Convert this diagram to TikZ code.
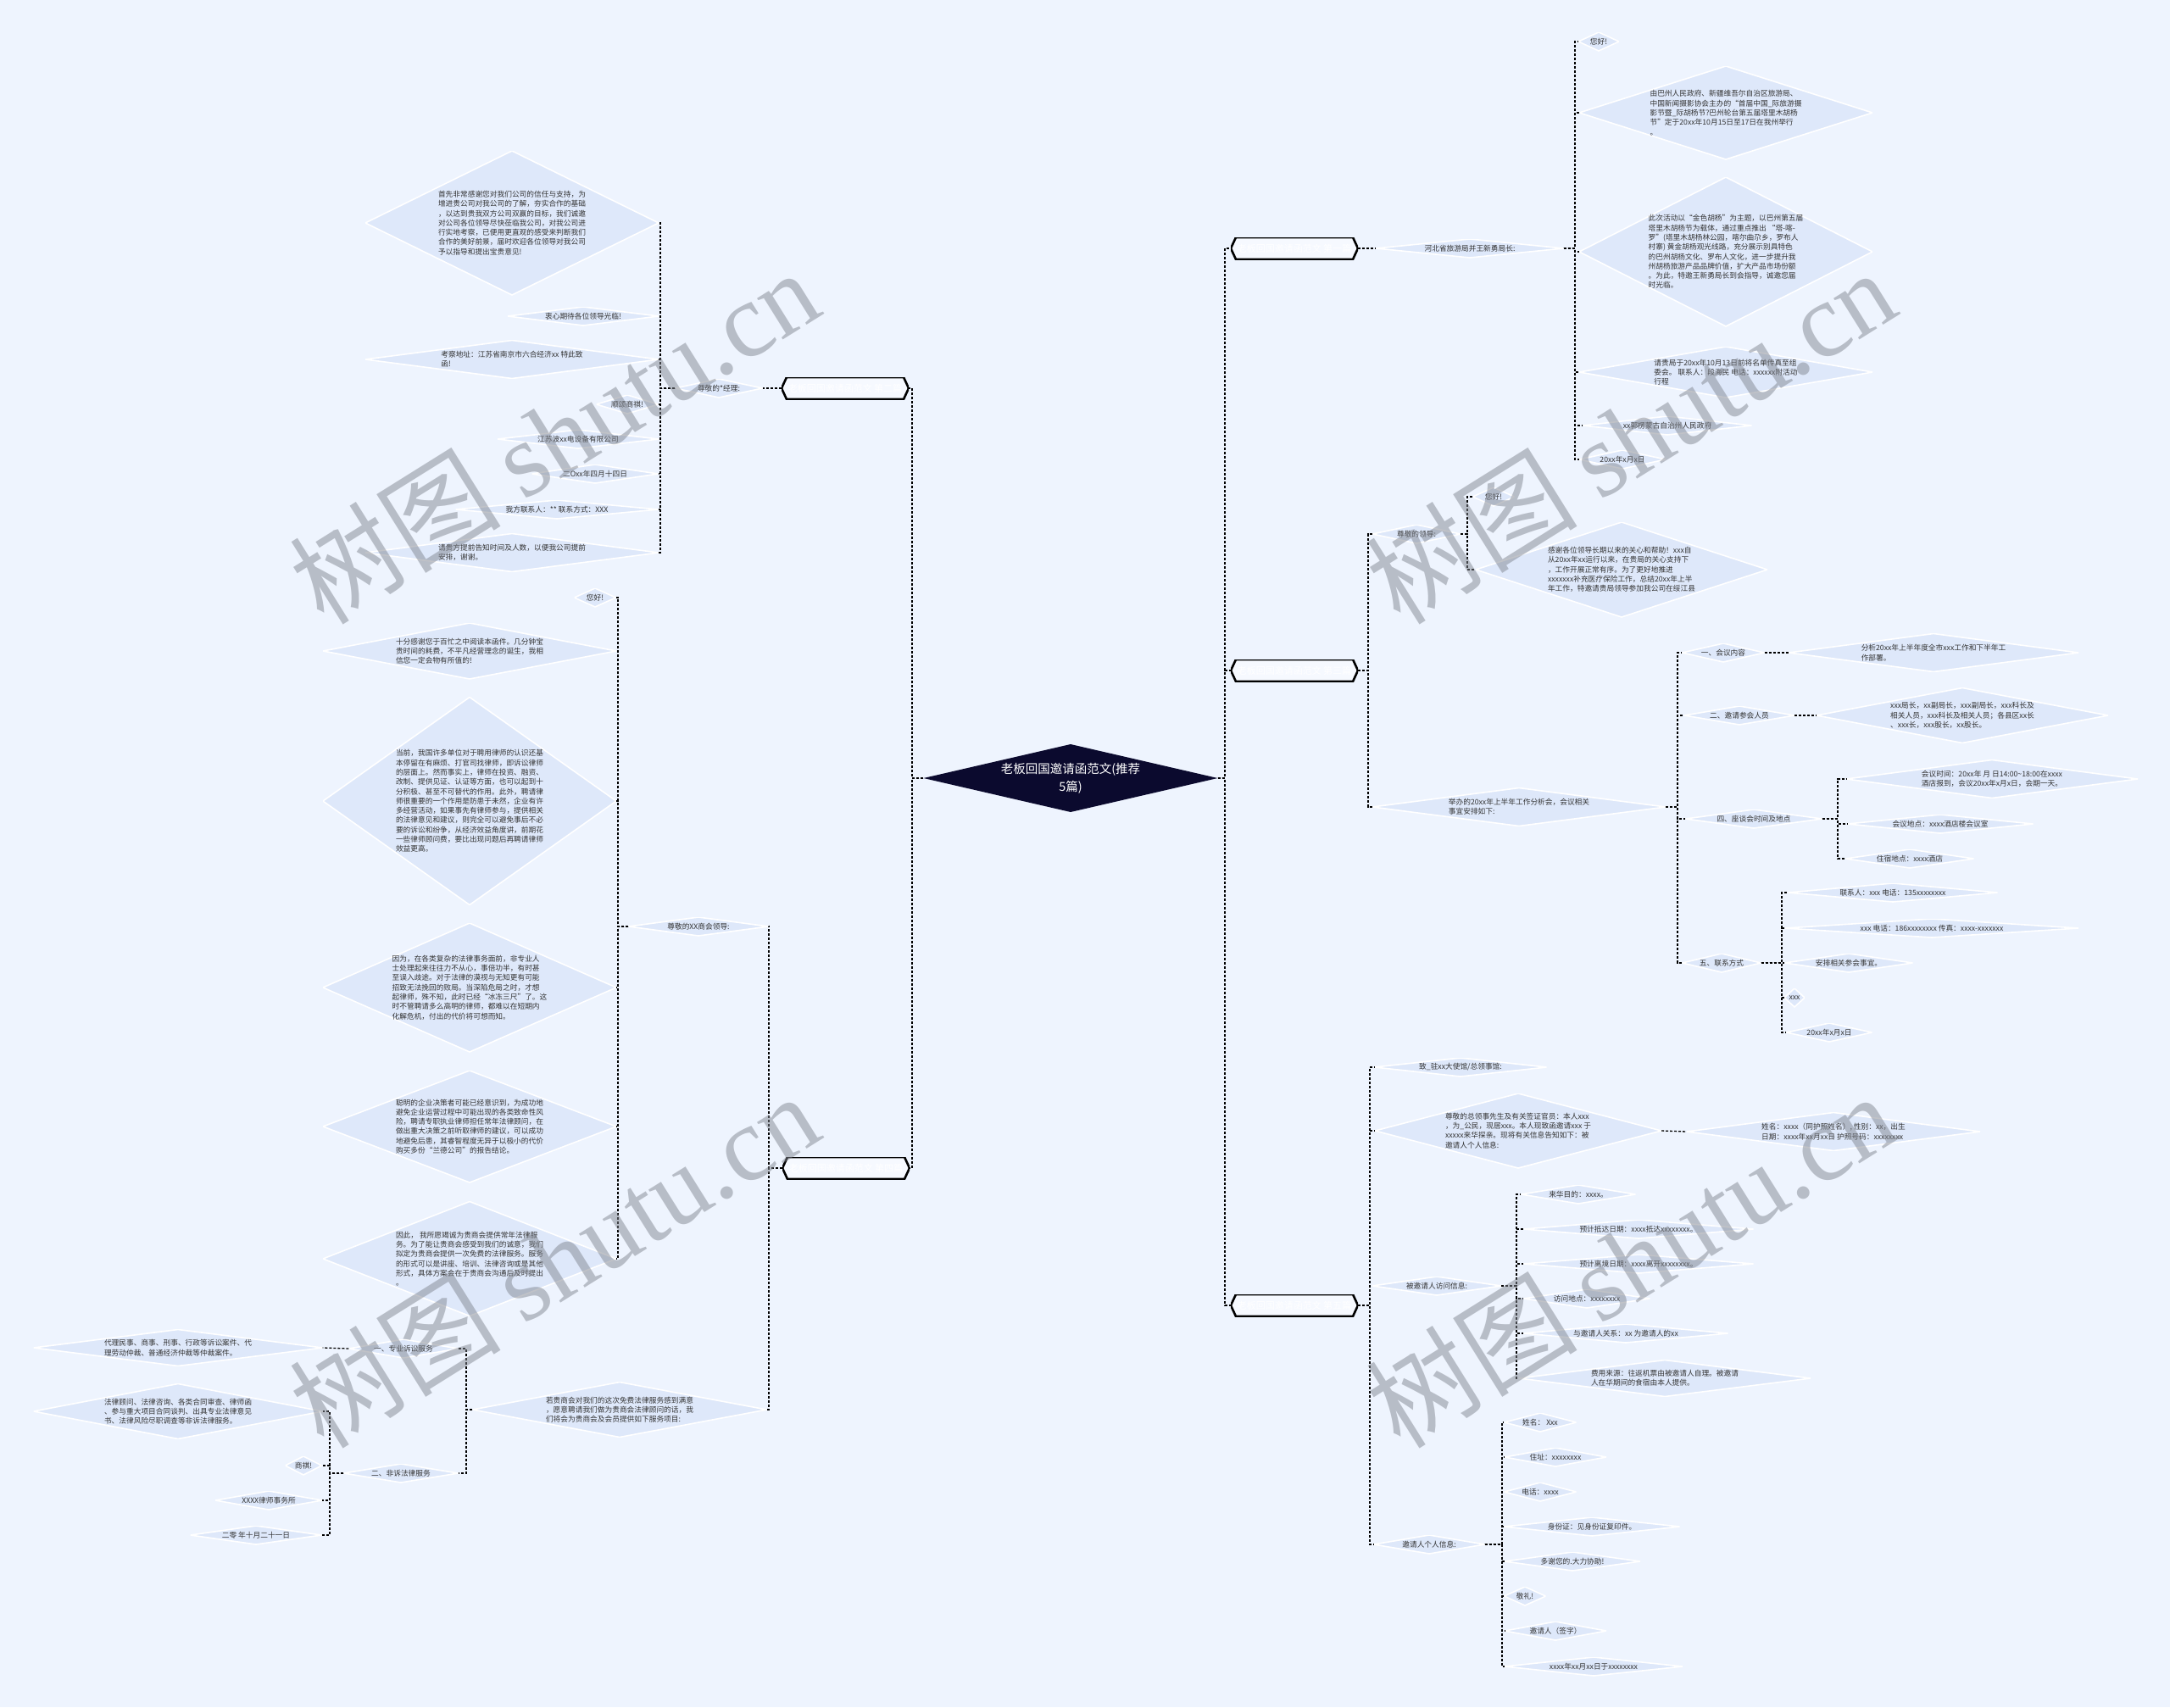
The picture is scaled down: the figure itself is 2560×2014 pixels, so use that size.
\documentclass[tikz,border=0pt]{standalone}
\usepackage{fontspec}
\setmainfont{Noto Sans CJK SC}
\newfontfamily\wmlat{Liberation Serif}
\usetikzlibrary{calc}
\definecolor{bgc}{RGB}{238,244,254}
\definecolor{dfill}{RGB}{222,232,250}
\definecolor{txtc}{RGB}{51,51,51}
\definecolor{rootc}{RGB}{11,10,46}
\definecolor{hexfill}{RGB}{246,249,255}
\definecolor{wmc}{RGB}{130,135,145}
\tikzset{
  conn/.style={draw=black, line width=1.3pt, dash pattern=on 3pt off 2pt},
  dm/.style 2 args={rectangle, inner sep=0pt, minimum width=#1pt, minimum height=#2pt,
    align=left, text=txtc, font=\fontsize{8.7}{11.3}\selectfont,
    path picture={\fill[dfill, draw=white, line width=1.6pt]
      (path picture bounding box.west) -- (path picture bounding box.north) --
      (path picture bounding box.east) -- (path picture bounding box.south) -- cycle;}},
  sd/.style={dm={#1}{22}},
  hexn/.style={rectangle, inner sep=0pt, minimum width=150pt, minimum height=26pt,
    text=white, font=\fontsize{11}{13}\selectfont,
    path picture={\fill[hexfill, draw=black, line width=2.6pt]
      (path picture bounding box.west) -- ([xshift=6pt]path picture bounding box.north west) --
      ([xshift=-6pt]path picture bounding box.north east) -- (path picture bounding box.east) --
      ([xshift=-6pt]path picture bounding box.south east) -- ([xshift=6pt]path picture bounding box.south west) -- cycle;}},
  rootn/.style={rectangle, inner sep=0pt, minimum width=347pt, minimum height=80pt,
    align=center, text=white, font=\fontsize{14.5}{21}\selectfont,
    path picture={\fill[rootc]
      (path picture bounding box.west) -- (path picture bounding box.north) --
      (path picture bounding box.east) -- (path picture bounding box.south) -- cycle;}},
  wm/.style={font=\fontsize{125}{125}\selectfont, text=wmc, text opacity=0.5, rotate=32, inner sep=0pt}
}
\begin{document}
\begin{tikzpicture}[x=1pt,y=-1pt]
\fill[bgc] (0,0) rectangle (2560,2014);
\useasboundingbox (0,0) rectangle (2560,2014);

% trunk coordinates
\coordinate (tkL) at (1076,0);
\coordinate (tkR) at (1445,0);
\coordinate (tkA) at (779,0);
\coordinate (tkL2) at (907,0);
\coordinate (tkB) at (729,0);
\coordinate (tkC) at (550,0);
\coordinate (tkD) at (389,0);
\coordinate (tkD0) at (1858,0);
\coordinate (tkE) at (1614,0);
\coordinate (tkE2) at (1731,0);
\coordinate (tkF) at (1979,0);
\coordinate (tkF3) at (2168,0);
\coordinate (tkF4) at (2102,0);
\coordinate (tkG) at (1616,0);
\coordinate (tkG2) at (1789,0);
\coordinate (tkG3) at (1772,0);

% root
\node[rootn] (root) at (1263,918) {老板回国邀请函范文(推荐\\5篇)};

% level 1
\node[hexn] (h1) at (1527,293) {老板回国邀请函范文 第一篇};
\node[hexn] (h2) at (997,458) {老板回国邀请函范文 第二篇};
\node[hexn] (h3) at (1527,791) {老板回国邀请函范文 第三篇};
\node[hexn] (h4) at (998,1378) {老板回国邀请函范文 第四篇};
\node[hexn] (h5) at (1527,1540) {老板回国邀请函范文 第五篇};

% ---- 第二篇
\node[sd=103] (a0) at (848,458) {尊敬的*经理:};
\node[dm={346}{170}] (a1) at (604,263) {首先非常感谢您对我们公司的信任与支持，为\\增进贵公司对我公司的了解，夯实合作的基础\\，以达到贵我双方公司双赢的目标，我们诚邀\\对公司各位领导尽快莅临我公司，对我公司进\\行实地考察，已便用更直观的感受来判断我们\\合作的美好前景，届时欢迎各位领导对我公司\\予以指导和提出宝贵意见!};
\node[sd=178] (a2) at (688,373) {衷心期待各位领导光临!};
\node[dm={346}{45}] (a3) at (604,424) {考察地址：江苏省南京市六合经济xx 特此致\\函!};
\node[sd=73] (a4) at (740,477) {顺颂商祺!};
\node[sd=190] (a5) at (682,518) {江苏波xx电设备有限公司};
\node[sd=149] (a6) at (702,559) {二Oxx年四月十四日};
\node[sd=239] (a7) at (657,601) {我方联系人：** 联系方式：XXX};
\node[dm={346}{45}] (a8) at (604,652) {请贵方提前告知时间及人数，以便我公司提前\\安排，谢谢。};

% ---- 第四篇
\node[sd=165] (b0) at (824,1093) {尊敬的XX商会领导:};
\node[sd=49] (b1) at (702,705) {您好!};
\node[dm={346}{66}] (b2) at (554,768) {十分感谢您于百忙之中阅读本函件。几分钟宝\\贵时间的耗费，不平凡经营理念的诞生，我相\\信您一定会物有所值的!};
\node[dm={346}{245}] (b3) at (554,945) {当前，我国许多单位对于聘用律师的认识还基\\本停留在有麻烦、打官司找律师，即诉讼律师\\的层面上。然而事实上，律师在投资、融资、\\改制、提供见证、认证等方面，也可以起到十\\分积极、甚至不可替代的作用。此外，聘请律\\师很重要的一个作用是防患于未然，企业有许\\多经营活动，如果事先有律师参与，提供相关\\的法律意见和建议，则完全可以避免事后不必\\要的诉讼和纷争，从经济效益角度讲，前期花\\一些律师顾问费，要比出现问题后再聘请律师\\效益更高。};
\node[dm={346}{152}] (b4) at (554,1165) {因为，在各类复杂的法律事务面前，非专业人\\士处理起来往往力不从心，事倍功半，有时甚\\至误入歧途。对于法律的漠视与无知更有可能\\招致无法挽回的败局。当深陷危局之时，才想\\起律师，殊不知，此时已经“冰冻三尺”了。这\\时不管聘请多么高明的律师，都难以在短期内\\化解危机，付出的代价将可想而知。};
\node[dm={346}{132}] (b5) at (554,1329) {聪明的企业决策者可能已经意识到，为成功地\\避免企业运营过程中可能出现的各类致命性风\\险，聘请专职执业律师担任常年法律顾问，在\\做出重大决策之前听取律师的建议，可以成功\\地避免后患，其睿智程度无异于以极小的代价\\购买多份“兰德公司”的报告结论。};
\node[dm={346}{135}] (b6) at (554,1485) {因此， 我所愿竭诚为贵商会提供常年法律服\\务。为了能让贵商会感受到我们的诚意，我们\\拟定为贵商会提供一次免费的法律服务。服务\\的形式可以是讲座、培训、法律咨询或是其他\\形式，具体方案会在于贵商会沟通后及时提出\\。};
\node[dm={347}{65}] (c0) at (731,1663) {若贵商会对我们的这次免费法律服务感到满意\\，愿意聘请我们做为贵商会法律顾问的话，我\\们将会为贵商会及会员提供如下服务项目:};
\node[sd=129] (c1) at (476,1591) {一、专业诉讼服务};
\node[sd=135] (c2) at (473,1738) {二、非诉法律服务};
\node[dm={341}{43}] (c3) at (210,1590) {代理民事、商事、刑事、行政等诉讼案件、代\\理劳动仲裁、普通经济仲裁等仲裁案件。};
\node[dm={341}{65}] (c4) at (210,1665) {法律顾问、法律咨询、各类合同审查、律师函\\、参与重大项目合同谈判、出具专业法律意见\\书、法律风险尽职调查等非诉法律服务。};
\node[sd=43] (c5) at (358,1729) {商祺!};
\node[sd=126] (c6) at (317,1770) {XXXX律师事务所};
\node[sd=155] (c7) at (302,1811) {二零 年十月二十一日};

% ---- 第一篇
\node[sd=221] (d0) at (1734,293) {河北省旅游局并王新勇局长:};
\node[sd=48] (d1) at (1886,49) {您好!};
\node[dm={346}{110}] (d2) at (2036,133) {由巴州人民政府、新疆维吾尔自治区旅游局、\\中国新闻摄影协会主办的“首届中国\_际旅游摄\\影节暨\_际胡杨节?巴州轮台第五届塔里木胡杨\\节”定于20xx年10月15日至17日在我州举行\\。};
\node[dm={346}{176}] (d3) at (2036,297) {此次活动以“金色胡杨”为主题，以巴州第五届\\塔里木胡杨节为载体，通过重点推出 “塔-喀-\\罗”(塔里木胡杨林公园，喀尔曲尕乡，罗布人\\村寨) 黄金胡杨观光线路，充分展示别具特色\\的巴州胡杨文化、罗布人文化，进一步提升我\\州胡杨旅游产品品牌价值，扩大产品市场份额\\。为此，特邀王新勇局长到会指导，诚邀您届\\时光临。};
\node[dm={346}{60}] (d4) at (2036,439) {请贵局于20xx年10月13日前将名单传真至组\\委会。 联系人：段海民 电话：xxxxxx附活动\\行程};
\node[sd=199] (d5) at (1967,502) {xx郭楞蒙古自治州人民政府};
\node[sd=102] (d6) at (1914,542) {20xx年x月x日};

% ---- 第三篇
\node[sd=104] (e0) at (1671,630) {尊敬的领导:};
\node[sd=49] (e1) at (1762,586) {您好!};
\node[dm={344}{112}] (e2) at (1913,672) {感谢各位领导长期以来的关心和帮助！xxx自\\从20xx年xx运行以来，在贵局的关心支持下\\，工作开展正常有序。为了更好地推进\\xxxxxxx补充医疗保险工作，总结20xx年上半\\年工作，特邀请贵局领导参加我公司在绥江县};
\node[dm={346}{45}] (f0) at (1792,952) {举办的20xx年上半年工作分析会，会议相关\\事宜安排如下:};
\node[sd=97] (f1) at (2033,770) {一、会议内容};
\node[dm={342}{45}] (f1a) at (2281,770) {分析20xx年上半年度全市xxx工作和下半年工\\作部署。};
\node[sd=130] (f2) at (2052,844) {二、邀请参会人员};
\node[dm={344}{65}] (f2a) at (2315,844) {xxx局长，xx副局长，xxx副局长，xxx科长及\\相关人员，xxx科长及相关人员；各县区xx长\\、xxx长，xxx股长，xx股长。};
\node[sd=161] (f3) at (2069,966) {四、座谈会时间及地点};
\node[dm={344}{45}] (f3a) at (2350,919) {会议时间：20xx年 月 日14:00\textasciitilde 18:00在xxxx\\酒店报到，会议20xx年x月x日，会期一天。};
\node[sd=219] (f3b) at (2289,972) {会议地点：xxxx酒店楼会议室};
\node[sd=151] (f3c) at (2253,1013) {住宿地点：xxxx酒店};
\node[sd=93] (f4) at (2031,1136) {五、联系方式};
\node[sd=247] (f4a) at (2233,1053) {联系人：xxx 电话：135xxxxxxxx};
\node[sd=346] (f4b) at (2279,1095) {xxx 电话：186xxxxxxxx 传真：xxxx-xxxxxxx};
\node[sd=151] (f4c) at (2181,1136) {安排相关参会事宜。};
\node[sd=24] (f4d) at (2117,1177) {xxx};
\node[sd=101] (f4e) at (2158,1218) {20xx年x月x日};

% ---- 第五篇
\node[sd=203] (g0) at (1723,1259) {致\_驻xx大使馆/总领事馆:};
\node[dm={338}{88}] (g1) at (1791,1334) {尊敬的总领事先生及有关签证官员：本人xxx\\，为\_公民，现居xxx。本人现致函邀请xxx 于\\xxxxx来华探亲。现将有关信息告知如下：被\\邀请人个人信息:};
\node[dm={346}{45}] (g1a) at (2163,1335) {姓名：xxxx（同护照姓名）, 性别：xx，出生\\日期：xxxx年xx月xx日 护照号码：xxxxxxxx};
\node[sd=152] (g2) at (1695,1517) {被邀请人访问信息:};
\node[sd=135] (g2a) at (1862,1409) {来华目的：xxxx。};
\node[sd=271] (g2b) at (1933,1450) {预计抵达日期：xxxx抵达xxxxxxxx。};
\node[sd=271] (g2c) at (1933,1491) {预计离境日期：xxxx离开xxxxxxxx。};
\node[sd=149] (g2d) at (1872,1532) {访问地点：xxxxxxxx};
\node[sd=241] (g2e) at (1918,1573) {与邀请人关系：xx 为邀请人的xx};
\node[dm={344}{43}] (g2f) at (1964,1626) {费用来源：往返机票由被邀请人自理。被邀请\\人在华期间的食宿由本人提供。};
\node[sd=131] (g3) at (1686,1822) {邀请人个人信息:};
\node[sd=85] (g3a) at (1817,1678) {姓名： Xxx};
\node[sd=120] (g3b) at (1835,1719) {住址：xxxxxxxx};
\node[sd=85] (g3c) at (1817,1760) {电话：xxxx};
\node[sd=207] (g3d) at (1878,1801) {身份证：见身份证复印件。};
\node[sd=160] (g3e) at (1855,1842) {多谢您的.大力协助!};
\node[sd=49] (g3f) at (1799,1883) {敬礼!};
\node[sd=120] (g3g) at (1835,1924) {邀请人（签字）};
\node[sd=210] (g3h) at (1880,1966) {xxxx年xx月xx日于xxxxxxxx};

% ---- connectors
\foreach \c in {h2,h4} \draw[conn] (root.west) -- (root.west -| tkL) |- (\c.east);
\foreach \c in {h1,h3,h5} \draw[conn] (root.east) -- (root.east -| tkR) |- (\c.west);

\draw[conn] (h2.west) -- (a0.east);
\foreach \c in {a1,a2,a3,a4,a5,a6,a7,a8} \draw[conn] (a0.west) -- (a0.west -| tkA) |- (\c.east);

\foreach \c in {b0,c0} \draw[conn] (h4.west) -- (h4.west -| tkL2) |- (\c.east);
\foreach \c in {b1,b2,b3,b4,b5,b6} \draw[conn] (b0.west) -- (b0.west -| tkB) |- (\c.east);
\foreach \c in {c1,c2} \draw[conn] (c0.west) -- (c0.west -| tkC) |- (\c.east);
\draw[conn] (c1.west) -- (c3.east);
\foreach \c in {c4,c5,c6,c7} \draw[conn] (c2.west) -- (c2.west -| tkD) |- (\c.east);

\draw[conn] (h1.east) -- (d0.west);
\foreach \c in {d1,d2,d3,d4,d5,d6} \draw[conn] (d0.east) -- (d0.east -| tkD0) |- (\c.west);

\foreach \c in {e0,f0} \draw[conn] (h3.east) -- (h3.east -| tkE) |- (\c.west);
\foreach \c in {e1,e2} \draw[conn] (e0.east) -- (e0.east -| tkE2) |- (\c.west);
\foreach \c in {f1,f2,f3,f4} \draw[conn] (f0.east) -- (f0.east -| tkF) |- (\c.west);
\draw[conn] (f1.east) -- (f1a.west);
\draw[conn] (f2.east) -- (f2a.west);
\foreach \c in {f3a,f3b,f3c} \draw[conn] (f3.east) -- (f3.east -| tkF3) |- (\c.west);
\foreach \c in {f4a,f4b,f4c,f4d,f4e} \draw[conn] (f4.east) -- (f4.east -| tkF4) |- (\c.west);

\foreach \c in {g0,g1,g2,g3} \draw[conn] (h5.east) -- (h5.east -| tkG) |- (\c.west);
\draw[conn] (g1.east) -- (g1a.west);
\foreach \c in {g2a,g2b,g2c,g2d,g2e,g2f} \draw[conn] (g2.east) -- (g2.east -| tkG2) |- (\c.west);
\foreach \c in {g3a,g3b,g3c,g3d,g3e,g3f,g3g,g3h} \draw[conn] (g3.east) -- (g3.east -| tkG3) |- (\c.west);

% watermarks
\node[wm] (wm1) at (653,514) {树图 {\wmlat shutu.cn}};
\node[wm] (wm2) at (653,1486) {树图 {\wmlat shutu.cn}};
\node[wm] (wm3) at (1923,514) {树图 {\wmlat shutu.cn}};
\node[wm] (wm4) at (1923,1486) {树图 {\wmlat shutu.cn}};
\end{tikzpicture}
\end{document}
